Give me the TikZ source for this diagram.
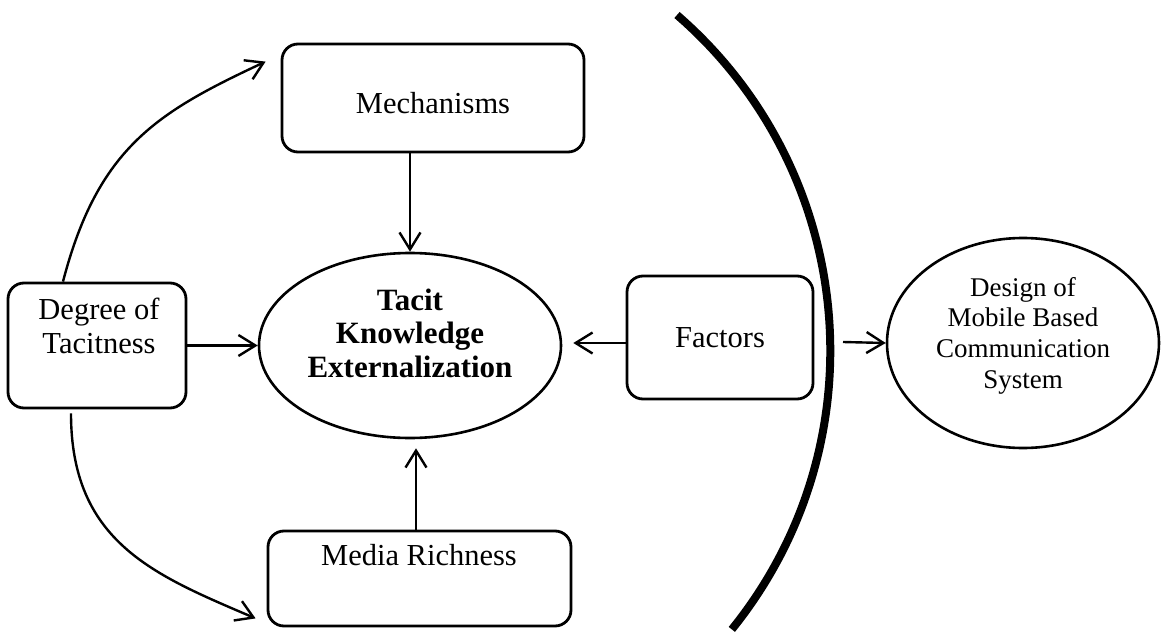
\documentclass[tikz,border=0pt]{standalone}
\usepackage{fontspec}
\setmainfont{Liberation Serif}
\usetikzlibrary{shapes.geometric,arrows.meta}

\tikzset{
  box/.style={draw, line width=2.8pt, rounded corners=16pt, inner sep=0pt},
  oval/.style={draw, ellipse, line width=2.6pt, inner sep=0pt},
  arr/.style={line width=2.4pt, -{Straight Barb[length=17pt,width=21pt]}},
  txt/.style={inner sep=0pt, font=\fontsize{30.5}{34}\selectfont},
  boldtxt/.style={inner sep=0pt, font=\fontsize{31}{33.5}\selectfont\bfseries},
  smalltxt/.style={inner sep=0pt, font=\fontsize{27}{30.7}\selectfont},
  divider/.style={line width=8pt},
}

\begin{document}
\begin{tikzpicture}[x=1pt, y=-1pt]
  \useasboundingbox (0,0) rectangle (1162,634);

  % boxes and ovals
  \node[box, minimum width=302pt, minimum height=108pt] (mech) at (433,98) {};
  \node[box, minimum width=178pt, minimum height=125pt] (deg) at (97,345.5) {};
  \node[box, minimum width=303pt, minimum height=95pt] (media) at (419.5,578.5) {};
  \node[box, minimum width=186pt, minimum height=123pt] (fac) at (720,337.5) {};
  \node[oval, minimum width=302pt, minimum height=185pt] (tke) at (410,345.5) {};
  \node[oval, minimum width=272pt, minimum height=210pt] (design) at (1023,343) {};

  % labels
  \node[txt, anchor=base] (mechtxt) at (433,113) {Mechanisms};
  \node[txt, anchor=base] (degtxt) at (99,319)
    {\begin{tabular}[t]{@{}c@{}}Degree of\\Tacitness\end{tabular}};
  \node[txt, anchor=base] (mediatxt) at (419,565) {Media Richness};
  \node[txt, anchor=base] (factxt) at (720,347) {Factors};
  \node[boldtxt, anchor=base] (tketxt) at (410,310)
    {\begin{tabular}[t]{@{}c@{}}Tacit\\Knowledge\\Externalization\end{tabular}};
  \node[smalltxt, anchor=base] (designtxt) at (1023,296)
    {\begin{tabular}[t]{@{}c@{}}Design of\\Mobile Based\\Communication\\System\end{tabular}};

  % straight connectors into the central oval
  \draw[arr] (mech.south -| tke.north) -- (tke.north);
  \draw[arr] (deg.east) -- (tke.west);
  \draw[arr, shorten >=9pt] ([xshift=6pt]tke.south |- media.north) -- ([xshift=6pt]tke.south);
  \draw[arr, shorten >=11pt] ([yshift=-5.5pt]fac.west) -- ([yshift=-5.5pt]fac.west -| tke.east);

  % curved connectors from the degree box
  \draw[arr] ([xshift=-34pt]deg.north) .. controls (98,147) and (158,112)
    .. ([xshift=-15pt,yshift=-19pt]mech.north west);
  \draw[arr] ([xshift=-26pt,yshift=-4pt]deg.south) .. controls (71,542) and (154,575)
    .. ([xshift=-11pt,yshift=9pt]media.south west);

  % dividing arc and the outcome arrow
  \draw[divider] (677,15) arc[start angle=-49.1, end angle=38.9, radius=444];
  \coordinate (cut) at (843,342);
  \draw[arr] (cut) -- (design.west);
\end{tikzpicture}
\end{document}
